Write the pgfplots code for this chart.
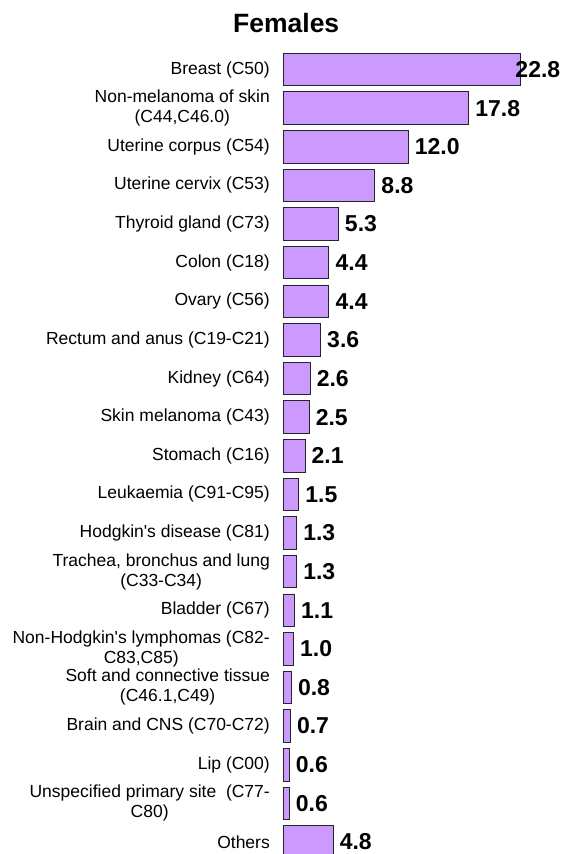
\documentclass[border=0pt]{standalone}
\usepackage{fontspec}
\setmainfont{Liberation Sans}
\usepackage{pgfplots}
\pgfplotsset{compat=1.18}
\definecolor{barfill}{HTML}{CC99FF}
\begin{document}
\begin{tikzpicture}
\useasboundingbox (0,0) rectangle (560pt,854pt);
\begin{axis}[
  at={(283pt,0pt)}, anchor=south west,
  scale only axis, width=277pt, height=854pt,
  xmin=0, xmax=26.56,
  y dir=reverse, ymin=-1.80, ymax=20.313,
  axis line style={draw=none},
  major tick length=0pt,
  xtick=\empty,
  ytick={0,...,20},
  yticklabels={
    {Breast (C50)},
    {Non-melanoma of skin\\(C44,C46.0)},
    {Uterine corpus (C54)},
    {Uterine cervix (C53)},
    {Thyroid gland (C73)},
    {Colon (C18)},
    {Ovary (C56)},
    {Rectum and anus (C19-C21)},
    {Kidney (C64)},
    {Skin melanoma (C43)},
    {Stomach (C16)},
    {Leukaemia (C91-C95)},
    {Hodgkin\textquotesingle s disease (C81)},
    {Trachea, bronchus and lung\\(C33-C34)},
    {Bladder (C67)},
    {Non-Hodgkin\textquotesingle s lymphomas (C82-\\C83,C85)},
    {Soft and connective tissue\\(C46.1,C49)},
    {Brain and CNS (C70-C72)},
    {Lip (C00)},
    {Unspecified primary site\ \ (C77-\\C80)},
    {Others}},
  yticklabel style={font=\fontsize{17.5}{20}\selectfont, align=center, inner sep=0pt, xshift=-13pt},
  title={Females},
  title style={at={(rel axis cs:0.01155,1)}, anchor=center, yshift=-28.8pt, font=\fontsize{26.5}{28}\selectfont\bfseries},
  xbar, bar width=32.5pt, bar shift=0pt,
  /pgf/number format/assume math mode=true,
  /pgf/number format/fixed, /pgf/number format/fixed zerofill, /pgf/number format/precision=1,
  nodes near coords,
  nodes near coords align={horizontal},
  every node near coord/.append style={font=\fontsize{23}{23}\selectfont\bfseries, text=black, anchor=west, inner sep=0pt, xshift=6.3pt},
]
\addplot[fill=barfill, draw=black!85, line width=0.8pt] coordinates {
  (17.8,1) (12.0,2) (8.8,3) (5.3,4) (4.4,5) (4.4,6) (3.6,7) (2.6,8) (2.5,9)
  (2.1,10) (1.5,11) (1.3,12) (1.3,13) (1.1,14) (1.0,15) (0.8,16) (0.7,17)
  (0.6,18) (0.6,19) (4.8,20)
};
\addplot[fill=barfill, draw=black!85, line width=0.8pt,
  every node near coord/.append style={xshift=-12pt}] coordinates {
  (22.8,0)
};
\end{axis}
\end{tikzpicture}
\end{document}
